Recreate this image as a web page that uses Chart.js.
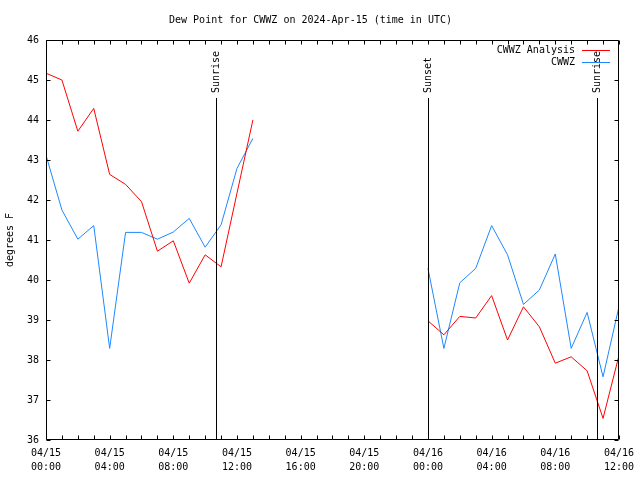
<!DOCTYPE html>
<html>
<head>
<meta charset="utf-8">
<script src="https://cdn.jsdelivr.net/npm/chart.js@4/dist/chart.umd.min.js"></script>
<style>html,body{margin:0;padding:0;background:#fff;}canvas{display:block;}</style>
</head>
<body>
<canvas id="c" width="640" height="480"></canvas>
<script>
// hours since 04/15 00:00 UTC
const hours = Array.from({length: 37}, (_, i) => i);
const analysisValues = [45.17, 45.0, 43.72, 44.29, 42.64, 42.39, 41.96, 40.72, 40.98, 39.92, 40.63, 40.33, 42.17, 44.0,
  null, null, null, null, null, null, null, null, null, null,
  38.98, 38.63, 39.09, 39.05, 39.61, 38.5, 39.33, 38.83, 37.92, 38.08, 37.73, 36.54, 38.11];
const stationValues = [43.12, 41.75, 41.02, 41.36, 38.29, 41.19, 41.19, 41.02, 41.2, 41.54, 40.82, 41.38, 42.79, 43.54,
  null, null, null, null, null, null, null, null, null, null,
  40.29, 38.29, 39.93, 40.29, 41.36, 40.63, 39.39, 39.75, 40.65, 38.29, 39.19, 37.58, 39.33];
const seriesNames = ['CWWZ Analysis', 'CWWZ'];
const tickDates = ['04/15', '04/15', '04/15', '04/15', '04/15', '04/15', '04/16', '04/16', '04/16', '04/16'];
const tickTimes = ['00:00', '04:00', '08:00', '12:00', '16:00', '20:00', '00:00', '04:00', '08:00', '12:00'];
const eventHours = [10.66, 23.98, 34.65];
const eventNames = ['Sunrise', 'Sunset', 'Sunrise'];
const titleText = 'Dew Point for CWWZ on 2024-Apr-15 (time in UTC)';

const MONO = '"DejaVu Sans Mono", monospace';

const framePlugin = {
  id: 'frame',
  afterDatasetsDraw(chart) {
    const ctx = chart.ctx;
    const a = chart.chartArea;
    const xs = chart.scales.x, ys = chart.scales.y;
    ctx.save();
    ctx.strokeStyle = '#000';
    ctx.lineWidth = 1;
    const L = Math.round(a.left) + 0.5, R = Math.round(a.right) - 0.5;
    const T = Math.round(a.top) + 0.5, B = Math.round(a.bottom) - 0.5;
    ctx.beginPath();
    ctx.rect(L, T, R - L, B - T);
    ctx.stroke();
    const tl = 4;
    ctx.beginPath();
    xs.ticks.forEach(t => {
      const px = Math.round(xs.getPixelForValue(t.value)) + 0.5;
      ctx.moveTo(px, B); ctx.lineTo(px, B - tl);
      ctx.moveTo(px, T); ctx.lineTo(px, T + tl);
    });
    ys.ticks.forEach(t => {
      const py = Math.round(ys.getPixelForValue(t.value)) + 0.5;
      ctx.moveTo(L, py); ctx.lineTo(L + tl, py);
      ctx.moveTo(R, py); ctx.lineTo(R - tl, py);
    });
    ctx.stroke();
    // event lines
    ctx.font = '10px ' + MONO;
    ctx.fillStyle = '#000';
    eventHours.forEach((h, i) => {
      const px = Math.round(xs.getPixelForValue(h)) + 0.5;
      ctx.beginPath();
      ctx.moveTo(px, 98); ctx.lineTo(px, B);
      ctx.stroke();
      ctx.save();
      ctx.translate(px, 93);
      ctx.rotate(-Math.PI / 2);
      ctx.textAlign = 'left';
      ctx.textBaseline = 'middle';
      ctx.fillText(eventNames[i], 0, 0);
      ctx.restore();
    });
    // legend
    chart.data.datasets.forEach((ds, i) => {
      const y = 50 + 12 * i;
      ctx.textAlign = 'right';
      ctx.textBaseline = 'middle';
      ctx.fillStyle = '#000';
      ctx.fillText(ds.label, 575, y);
      ctx.strokeStyle = ds.borderColor;
      ctx.beginPath();
      ctx.moveTo(582, y + 0.5); ctx.lineTo(610, y + 0.5);
      ctx.stroke();
    });
    ctx.restore();
  }
};

new Chart(document.getElementById('c'), {
  type: 'line',
  data: {
    labels: hours,
    datasets: [
      { label: seriesNames[0], data: hours.map((h, i) => ({x: h, y: analysisValues[i]})), borderColor: '#ff0000', borderWidth: 1, pointRadius: 0, tension: 0, spanGaps: false, fill: false },
      { label: seriesNames[1], data: hours.map((h, i) => ({x: h, y: stationValues[i]})), borderColor: '#1e88ff', borderWidth: 1, pointRadius: 0, tension: 0, spanGaps: false, fill: false }
    ]
  },
  options: {
    responsive: false,
    animation: false,
    devicePixelRatio: 1,
    layout: { padding: { left: 0, right: 19, top: 0, bottom: 0 } },
    plugins: {
      legend: { display: false },
      tooltip: { enabled: false },
      title: { display: true, text: titleText, color: '#000', font: { family: MONO, size: 10, weight: 'normal' }, padding: { top: 14, bottom: 14 } }
    },
    scales: {
      x: {
        type: 'linear', min: 0, max: 36,
        grid: { display: false, drawTicks: false },
        border: { display: false },
        afterFit(s) { s.height = 40; },
        ticks: {
          stepSize: 1, autoSkip: false, maxRotation: 0, minRotation: 0, padding: 6, color: '#000',
          font: { family: MONO, size: 10, lineHeight: 1.4 },
          callback(v) { return v % 4 === 0 ? [tickDates[v / 4], tickTimes[v / 4]] : ''; }
        }
      },
      y: {
        min: 36, max: 46,
        grid: { display: false, drawTicks: false },
        border: { display: false },
        afterFit(s) { s.width = 46; },
        title: { display: true, text: 'degrees F', color: '#000', font: { family: MONO, size: 10 }, padding: { top: 4, bottom: 0 } },
        ticks: { stepSize: 1, padding: 7, color: '#000', font: { family: MONO, size: 10 } }
      }
    }
  },
  plugins: [framePlugin]
});
</script>
</body>
</html>
